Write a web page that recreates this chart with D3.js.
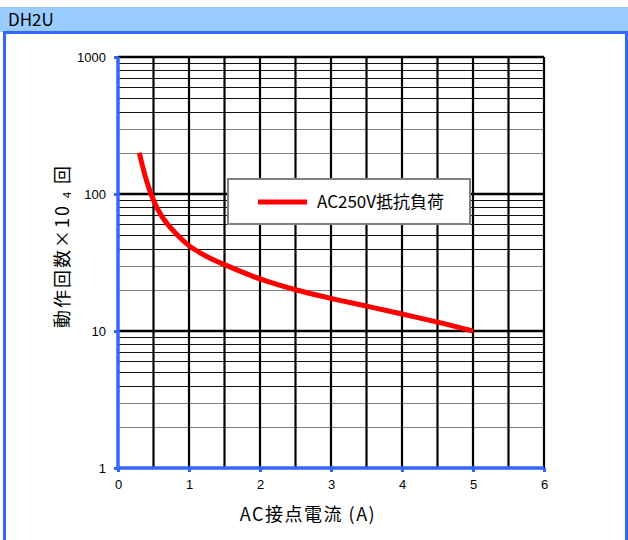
<!DOCTYPE html>
<html><head><meta charset="utf-8">
<script src="https://cdn.jsdelivr.net/npm/d3@7"></script>
<style>body{margin:0;background:#fff}svg{display:block}</style>
</head><body>
<script>
// ---- data ----
const chartTitle = "DH2U";
const seriesName = "AC250V抵抗負荷";
const currentA = [0.3, 0.4, 0.5, 0.6, 0.7, 0.8, 1.0, 1.25, 1.5, 2.0, 2.5, 3.0, 3.5, 4.0, 4.5, 5.0];
const operations = [200, 126, 90, 71, 60, 52.5, 42, 35, 30.5, 24, 20, 17.3, 15.2, 13.3, 11.6, 10];
const xTicks = [0, 1, 2, 3, 4, 5, 6];
const xGrid = [0.5, 1, 1.5, 2, 2.5, 3, 3.5, 4, 4.5, 5, 5.5, 6];
const yTicks = [1, 10, 100, 1000];
const xLabel = "AC接点電流 (A)";

const W = 628, H = 540;
const svg = d3.select("body").append("svg").attr("width", W).attr("height", H);
const jp = "'Noto Sans CJK JP','Noto Sans',sans-serif";
const num = "'Liberation Sans',Arial,sans-serif";

// header & frame
svg.append("rect").attr("x",0).attr("y",7).attr("width",W).attr("height",25).attr("fill","#99ccff");
svg.append("text").attr("x",8).attr("y",26).attr("font-family",jp).attr("font-size",17).attr("fill","#000").text(chartTitle);
svg.append("rect").attr("x",3).attr("y",31).attr("width",W-3).attr("height",3).attr("fill","#3366ff");
svg.append("rect").attr("x",3).attr("y",31).attr("width",3).attr("height",H-31).attr("fill","#3366ff");
svg.append("rect").attr("x",625).attr("y",31).attr("width",3).attr("height",H-31).attr("fill","#3366ff");

const x = d3.scaleLinear().domain([0, 6]).range([118, 544]);
const y = d3.scaleLog().domain([1, 1000]).range([468, 57]);

const g = svg.append("g");
// minor horizontal grid
const minor = [];
[1, 10, 100].forEach(d => { for (let k = 2; k <= 9; k++) minor.push({v: k * d, k}); });
g.selectAll("line.minor").data(minor).join("line")
  .attr("x1", x(0)).attr("x2", x(6))
  .attr("y1", d => Math.round(y(d.v)) + 0.5).attr("y2", d => Math.round(y(d.v)) + 0.5)
  .attr("stroke", d => d.k <= 3 ? "#808080" : "#111").attr("stroke-width", 1.2);
// major horizontal grid
g.selectAll("line.major").data([10, 100, 1000]).join("line")
  .attr("x1", x(0)).attr("x2", x(6))
  .attr("y1", d => y(d)).attr("y2", d => y(d))
  .attr("stroke", "#000").attr("stroke-width", 2.5);
// vertical grid
g.selectAll("line.vg").data(xGrid).join("line")
  .attr("x1", d => x(d)).attr("x2", d => x(d))
  .attr("y1", y(1000)).attr("y2", y(1))
  .attr("stroke", "#000").attr("stroke-width", 2.2);

// axes (blue)
const axisColor = "#3366ff";
const yAxis = svg.append("g").attr("transform", `translate(${x(0)},0)`)
  .call(d3.axisLeft(y).tickValues(yTicks).tickFormat(d3.format("d")).tickSize(4).tickPadding(8));
const xAxis = svg.append("g").attr("transform", `translate(0,${y(1)})`)
  .call(d3.axisBottom(x).tickValues(xTicks).tickFormat(d3.format("d")).tickSize(4).tickPadding(8));
[yAxis, xAxis].forEach(a => {
  a.select(".domain").attr("stroke", axisColor).attr("stroke-width", 3.5);
  a.selectAll(".tick line").attr("stroke", axisColor).attr("stroke-width", 3);
  a.selectAll(".tick text").attr("font-family", num).attr("font-size", 13).attr("fill", "#000");
});
yAxis.select(".domain").attr("d", `M0,${y(1000)}V${y(1)}`);
xAxis.select(".domain").attr("d", `M${x(0)},0H${x(6)}`);

// series line
const line = d3.line().x((d, i) => x(currentA[i])).y(d => y(d)).curve(d3.curveCatmullRom.alpha(0.5));
svg.append("path").datum(operations).attr("d", line)
  .attr("fill", "none").attr("stroke", "#ff0000").attr("stroke-width", 5);

// legend
const lg = svg.append("g");
lg.append("rect").attr("x", 228).attr("y", 179).attr("width", 242).attr("height", 45)
  .attr("fill", "#fff").attr("stroke", "#808080").attr("stroke-width", 2);
lg.append("line").attr("x1", 258).attr("x2", 307).attr("y1", 202).attr("y2", 202)
  .attr("stroke", "#ff0000").attr("stroke-width", 5);
lg.append("text").attr("x", 317).attr("y", 208).attr("font-family", jp).attr("font-size", 17).text(seriesName);

// axis titles
svg.append("text").attr("x", 308).attr("y", 521).attr("text-anchor", "middle")
  .attr("font-family", jp).attr("font-size", 18).attr("letter-spacing", 1.5).text(xLabel);
const yt = svg.append("text").attr("transform", "translate(69,246) rotate(-90)")
  .attr("text-anchor", "middle").attr("font-family", jp).attr("font-size", 18).attr("letter-spacing", 2);
yt.append("tspan").text("動作回数×10 ");
yt.append("tspan").attr("font-size", 11).attr("dy", 2).text("4");
yt.append("tspan").attr("dy", -2).text(" 回");
</script>
</body></html>
